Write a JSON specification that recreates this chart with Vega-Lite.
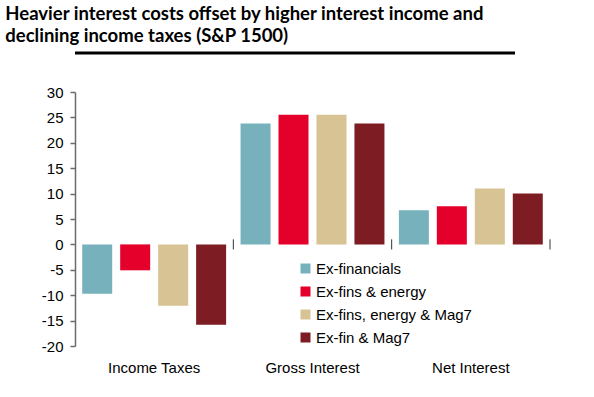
{
  "$schema": "https://vega.github.io/schema/vega-lite/v6.json",
  "background": "white",
  "padding": {"left": 5, "top": 5, "right": 5, "bottom": 5},
  "title": {
    "text": ["Heavier interest costs offset by higher interest income and", "declining income taxes (S&P 1500)"],
    "anchor": "start",
    "font": "Lato",
    "fontWeight": "bold",
    "fontSize": 18.5,
    "lineHeight": 22,
    "color": "black",
    "offset": 6
  },
  "spacing": 30,
  "resolve": {"scale": {"y": "independent", "color": "independent"}, "axis": {"y": "independent"}},
  "vconcat": [
    {
      "width": 510,
      "height": 1,
      "data": {"values": [{"a": 0}]},
      "mark": {"type": "rule", "color": "black", "strokeWidth": 3, "xOffset": -70},
      "encoding": {
        "y": {"datum": 0, "type": "quantitative", "scale": {"domain": [0, 1]}, "axis": null}
      }
    },
    {
      "width": 475,
      "height": 254,
      "encoding": {
        "y": {
          "type": "quantitative",
          "scale": {"domain": [-20, 30], "nice": false},
          "axis": {
            "title": " ", "titleFontSize": 1, "titlePadding": 35,
            "values": [-20, -15, -10, -5, 0, 5, 10, 15, 20, 25, 30],
            "labelOverlap": false,
            "labelExpr": "'' + datum.value",
            "grid": false, "domainColor": "#6b6b6b", "domainWidth": 1.5, "tickColor": "#6b6b6b", "tickWidth": 1.5, "tickSize": 5,
            "labelFont": "Liberation Sans", "labelFontSize": 15, "labelColor": "black", "labelPadding": 7
          }
        }
      },
      "layer": [
        {
          "data": {"name": "bars", "values": [
            {"cat": "Income Taxes", "series": "Ex-financials", "value": -9.7},
            {"cat": "Income Taxes", "series": "Ex-fins & energy", "value": -5.1},
            {"cat": "Income Taxes", "series": "Ex-fins, energy & Mag7", "value": -12.1},
            {"cat": "Income Taxes", "series": "Ex-fin & Mag7", "value": -15.8},
            {"cat": "Gross Interest", "series": "Ex-financials", "value": 23.8},
            {"cat": "Gross Interest", "series": "Ex-fins & energy", "value": 25.5},
            {"cat": "Gross Interest", "series": "Ex-fins, energy & Mag7", "value": 25.5},
            {"cat": "Gross Interest", "series": "Ex-fin & Mag7", "value": 23.8},
            {"cat": "Net Interest", "series": "Ex-financials", "value": 6.7},
            {"cat": "Net Interest", "series": "Ex-fins & energy", "value": 7.5},
            {"cat": "Net Interest", "series": "Ex-fins, energy & Mag7", "value": 11.0},
            {"cat": "Net Interest", "series": "Ex-fin & Mag7", "value": 10.0}
          ]},
          "mark": {"type": "bar"},
          "encoding": {
            "x": {
              "field": "cat", "type": "nominal",
              "scale": {"domain": ["Income Taxes", "Gross Interest", "Net Interest"], "paddingInner": 0, "paddingOuter": 0},
              "axis": {
                "title": null, "orient": "bottom", "labelAngle": 0, "domain": false, "ticks": false,
                "labelFont": "Liberation Sans", "labelFontSize": 15, "labelColor": "black", "labelPadding": 14
              }
            },
            "xOffset": {
              "field": "series", "type": "nominal",
              "scale": {"domain": ["Ex-financials", "Ex-fins & energy", "Ex-fins, energy & Mag7", "Ex-fin & Mag7"], "paddingInner": 0.21, "paddingOuter": 0.19}
            },
            "y": {"field": "value"},
            "color": {
              "field": "series", "type": "nominal",
              "scale": {
                "domain": ["Ex-financials", "Ex-fins & energy", "Ex-fins, energy & Mag7", "Ex-fin & Mag7"],
                "range": ["#77b2bc", "#e4002b", "#d7c393", "#7d1d23"]
              },
              "legend": {
                "title": null, "orient": "none", "legendX": 223, "legendY": 169,
                "symbolType": "square", "symbolSize": 100, "symbolStrokeWidth": 0, "symbolOpacity": 1,
                "labelFont": "Liberation Sans", "labelFontSize": 15, "labelColor": "black", "labelOffset": 3,
                "rowPadding": 7
              }
            }
          }
        },
        {
          "mark": {"type": "rule", "color": "#595959", "strokeWidth": 1.5},
          "encoding": {
            "y": {"datum": 0}
          }
        },
        {
          "data": {"values": [{"cat": "Gross Interest"}, {"cat": "Net Interest"}]},
          "mark": {"type": "rule", "color": "#333333", "strokeWidth": 1},
          "encoding": {
            "x": {"field": "cat", "type": "nominal", "bandPosition": 0},
            "y": {"datum": -1},
            "y2": {"datum": 1}
          }
        },
        {
          "data": {"values": [{"cat": "Net Interest"}]},
          "mark": {"type": "rule", "color": "#333333", "strokeWidth": 1},
          "encoding": {
            "x": {"field": "cat", "type": "nominal", "bandPosition": 1},
            "y": {"datum": -1},
            "y2": {"datum": 1}
          }
        }
      ]
    }
  ],
  "config": {"view": {"stroke": null}}
}
